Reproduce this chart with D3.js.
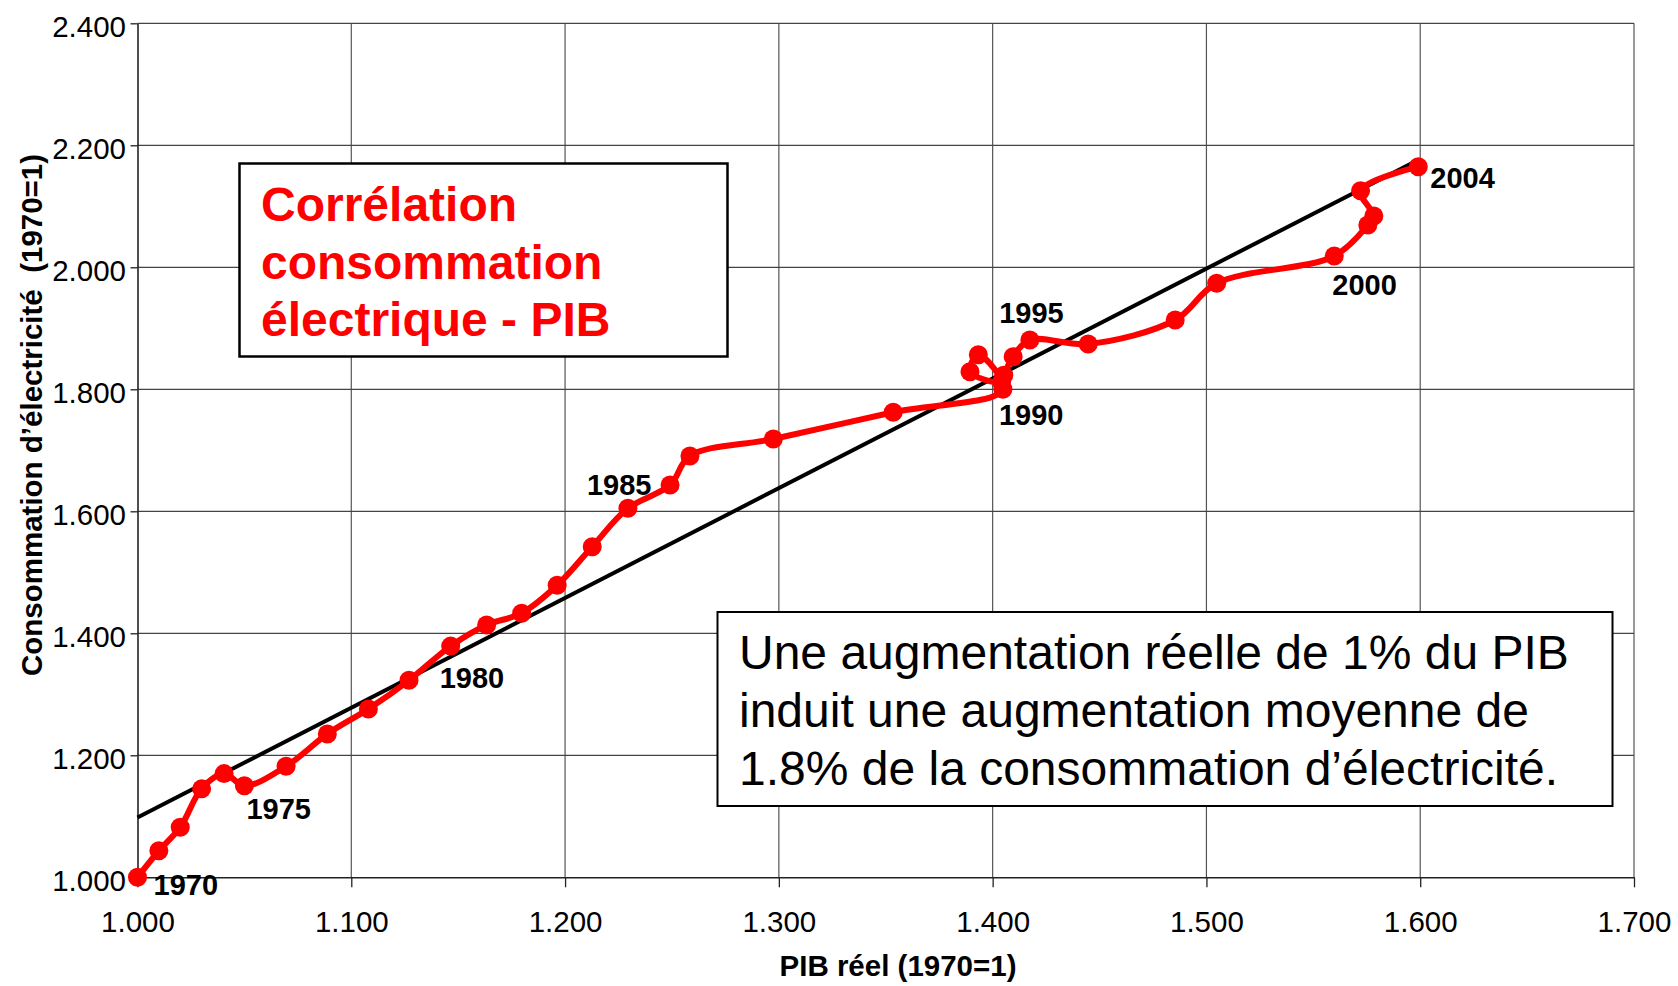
<!DOCTYPE html>
<html>
<head>
<meta charset="utf-8">
<script src="https://cdn.jsdelivr.net/npm/d3@7"></script>
<style>
  html, body { margin: 0; padding: 0; background: #fff; }
  svg { display: block; font-family: "Liberation Sans", Arial, sans-serif; }
</style>
</head>
<body>
<svg id="chart" width="1678" height="986"></svg>
<script>
// ---- Data ----
const years = ["1970","1971","1972","1973","1974","1975","1976","1977","1978","1979",
               "1980","1981","1982","1983","1984","1985","1986","1987","1988","1989",
               "1990","1991","1992","1993","1994","1995","1996","1997","1998","1999",
               "2000","2001","2002","2003","2004"];
const pib = [1.000, 1.010, 1.020, 1.030, 1.0405, 1.050, 1.0695, 1.0888, 1.108, 1.127,
             1.1465, 1.1633, 1.1797, 1.1963, 1.2127, 1.2294, 1.2491, 1.2584, 1.2974, 1.3535,
             1.4048, 1.3933, 1.3894, 1.4042, 1.4052, 1.4096, 1.4174, 1.4447, 1.4854, 1.5048,
             1.5598, 1.5755, 1.5783, 1.5721, 1.5991];
const conso = [1.000, 1.0436, 1.082, 1.145, 1.170, 1.150, 1.182, 1.235, 1.276, 1.323,
               1.379, 1.4136, 1.433, 1.4787, 1.542, 1.605, 1.643, 1.6906, 1.7185, 1.7623,
               1.800, 1.8567, 1.8289, 1.812, 1.823, 1.8534, 1.8808, 1.8743, 1.9136, 1.9738,
               2.0185, 2.0693, 2.0841, 2.1256, 2.1649];
const trendX = [1.000, 1.599];
const trendY = [1.098, 2.176];
const xTicks = [1.0, 1.1, 1.2, 1.3, 1.4, 1.5, 1.6, 1.7];
const yTicks = [1.0, 1.2, 1.4, 1.6, 1.8, 2.0, 2.2, 2.4];
const labelYears = ["1970","1975","1980","1985","1990","1995","2000","2004"];
const xTitle = "PIB réel (1970=1)";
const yTitle = "Consommation d’électricité  (1970=1)";
const titleLines = ["Corrélation", "consommation", "électrique - PIB"];
const noteLines = ["Une augmentation réelle de 1% du PIB",
                   "induit une augmentation moyenne de",
                   "1.8% de la consommation d’électricité."];

// ---- Layout / style ----
const labelOffsets = {
  "1970": [16, 18], "1975": [2, 33], "1980": [-11, 42], "1985": [-41, -13],
  "1990": [-4, 36], "1995": [-14, -34], "2000": [-2, 39], "2004": [12, 21]
};
const RED = "#ff0000";
const svg = d3.select("#chart");
const x = d3.scaleLinear().domain([1.0, 1.7]).range([137.5, 1634]);
const y = d3.scaleLinear().domain([1.0, 2.4]).range([877.3, 23.3]);

// gridlines
const grid = svg.append("g");
grid.selectAll("line.v").data(xTicks.slice(1)).join("line")
  .attr("x1", d => x(d)).attr("x2", d => x(d))
  .attr("y1", y(2.4)).attr("y2", y(1.0))
  .attr("stroke", "#555").attr("stroke-width", 1.2);
grid.selectAll("line.h").data(yTicks.slice(1)).join("line")
  .attr("x1", x(1.0)).attr("x2", x(1.7))
  .attr("y1", d => y(d)).attr("y2", d => y(d))
  .attr("stroke", "#444").attr("stroke-width", 1.2);

// axes
const fmt = d3.format(".3f");
const yAxis = svg.append("g").attr("transform", `translate(${x(1.0)},0)`)
  .call(d3.axisLeft(y).tickValues(yTicks).tickFormat(fmt).tickSize(7).tickPadding(4.5).tickSizeOuter(0));
const xAxis = svg.append("g").attr("transform", `translate(0,${y(1.0)})`)
  .call(d3.axisBottom(x).tickValues(xTicks).tickFormat(fmt).tickSize(10).tickPadding(23.5).tickSizeOuter(0));
[xAxis, yAxis].forEach(a => {
  a.select(".domain").attr("stroke", "#222").attr("stroke-width", 1.6);
  a.selectAll(".tick line").attr("stroke", "#222").attr("stroke-width", 1.3);
  a.selectAll("text").attr("font-size", 29.5).attr("fill", "#000")
    .attr("font-family", "'Liberation Sans', Arial, sans-serif");
});
yAxis.selectAll("text").attr("dy", "0.44em");

// axis titles
svg.append("text").attr("x", 898).attr("y", 976).attr("text-anchor", "middle")
  .attr("font-size", 29.5).attr("font-weight", "bold").text(xTitle);
svg.append("text").attr("transform", "translate(42,415) rotate(-90)")
  .attr("text-anchor", "middle").attr("font-size", 29.5).attr("font-weight", "bold")
  .style("white-space", "pre").text(yTitle);

// title box
svg.append("rect").attr("x", 239.5).attr("y", 163.5).attr("width", 488).attr("height", 193)
  .attr("fill", "#fff").attr("stroke", "#000").attr("stroke-width", 2.5);
svg.append("g").selectAll("text").data(titleLines).join("text")
  .attr("x", 261).attr("y", (d, i) => 221 + i * 57.5)
  .attr("font-size", 48).attr("font-weight", "bold").attr("fill", RED).text(d => d);

// note box
svg.append("rect").attr("x", 717.5).attr("y", 612).attr("width", 895).attr("height", 194)
  .attr("fill", "#fff").attr("stroke", "#000").attr("stroke-width", 2);
svg.append("g").selectAll("text").data(noteLines).join("text")
  .attr("x", 739).attr("y", (d, i) => 668.5 + i * 58.3)
  .attr("font-size", 48).attr("fill", "#000").text(d => d);

// trend line
svg.append("line")
  .attr("x1", x(trendX[0])).attr("y1", y(trendY[0]))
  .attr("x2", x(trendX[1])).attr("y2", y(trendY[1]))
  .attr("stroke", "#000").attr("stroke-width", 4);

// data series
const pts = years.map((yr, i) => ({ yr, px: pib[i], cy: conso[i] }));
const line = d3.line().x(d => x(d.px)).y(d => y(d.cy)).curve(d3.curveCatmullRom.alpha(0.5));
svg.append("path").datum(pts).attr("d", line)
  .attr("fill", "none").attr("stroke", RED).attr("stroke-width", 6)
  .attr("stroke-linejoin", "round");
svg.append("g").selectAll("circle").data(pts).join("circle")
  .attr("cx", d => x(d.px)).attr("cy", d => y(d.cy)).attr("r", 9.5).attr("fill", RED);

// year labels
svg.append("g").selectAll("text").data(pts.filter(d => labelYears.includes(d.yr))).join("text")
  .attr("x", d => x(d.px) + labelOffsets[d.yr][0])
  .attr("y", d => y(d.cy) + labelOffsets[d.yr][1])
  .attr("font-size", 29).attr("font-weight", "bold").attr("fill", "#000").text(d => d.yr);
</script>
</body>
</html>
